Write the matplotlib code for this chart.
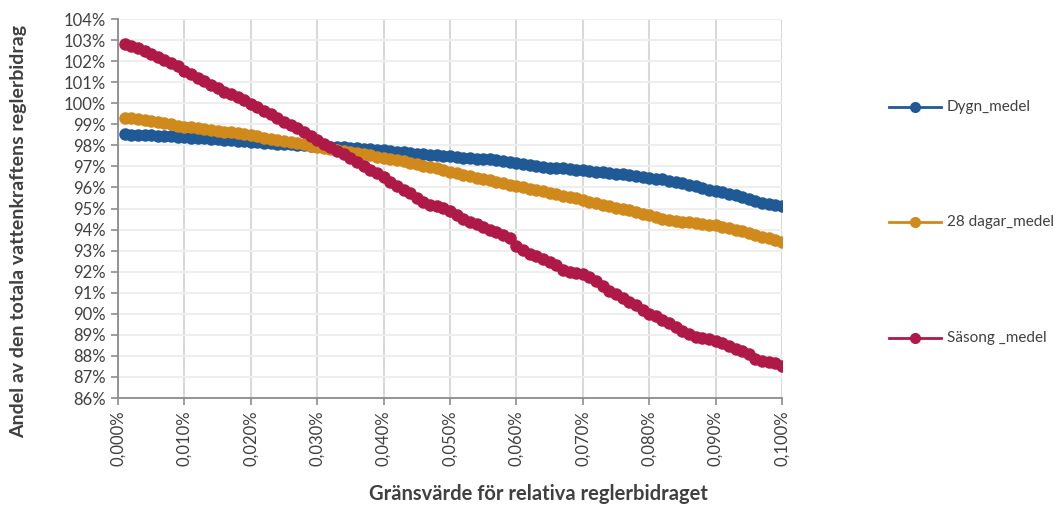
import matplotlib
matplotlib.use("Agg")
import matplotlib.pyplot as plt
from matplotlib.ticker import FuncFormatter, MultipleLocator
from matplotlib.lines import Line2D

plt.rcParams['font.family'] = ['Lato', 'DejaVu Sans']

# x values: threshold in percent (0.001% .. 0.100%)
x_vals = [i / 1000 for i in range(1, 101)]

dygn_medel = [
    98.52, 98.50, 98.49, 98.48, 98.47, 98.45, 98.44, 98.42, 98.40, 98.38,
    98.37, 98.35, 98.33, 98.31, 98.29, 98.27, 98.25, 98.22, 98.19, 98.16,
    98.14, 98.12, 98.10, 98.08, 98.07, 98.05, 98.03, 98.01, 97.99, 97.97,
    97.95, 97.93, 97.92, 97.90, 97.88, 97.86, 97.84, 97.82, 97.79, 97.76,
    97.73, 97.70, 97.67, 97.64, 97.61, 97.58, 97.56, 97.53, 97.50, 97.47,
    97.44, 97.41, 97.39, 97.37, 97.35, 97.33, 97.30, 97.26, 97.21, 97.17,
    97.13, 97.08, 97.03, 96.98, 96.94, 96.92, 96.90, 96.88, 96.85, 96.81,
    96.78, 96.75, 96.72, 96.69, 96.66, 96.62, 96.57, 96.52, 96.48, 96.45,
    96.42, 96.38, 96.32, 96.26, 96.20, 96.13, 96.05, 95.97, 95.90, 95.83,
    95.76, 95.70, 95.62, 95.53, 95.45, 95.36, 95.28, 95.22, 95.18, 95.12,
]

dagar28_medel = [
    99.32, 99.28, 99.24, 99.19, 99.14, 99.09, 99.04, 98.99, 98.94, 98.89,
    98.85, 98.81, 98.77, 98.73, 98.69, 98.65, 98.61, 98.57, 98.52, 98.47,
    98.42, 98.37, 98.32, 98.27, 98.22, 98.16, 98.10, 98.04, 97.97, 97.92,
    97.87, 97.83, 97.79, 97.75, 97.70, 97.64, 97.58, 97.52, 97.46, 97.40,
    97.35, 97.30, 97.24, 97.18, 97.11, 97.04, 96.97, 96.90, 96.82, 96.74,
    96.67, 96.60, 96.53, 96.46, 96.39, 96.33, 96.27, 96.20, 96.13, 96.06,
    96.00, 95.94, 95.88, 95.81, 95.74, 95.67, 95.61, 95.55, 95.48, 95.40,
    95.32, 95.24, 95.16, 95.10, 95.04, 94.99, 94.93, 94.85, 94.76, 94.67,
    94.58, 94.50, 94.45, 94.41, 94.38, 94.34, 94.30, 94.26, 94.23, 94.20,
    94.14, 94.07, 94.00, 93.92, 93.84, 93.76, 93.67, 93.58, 93.49, 93.40,
]

sasong_medel = [
    102.82, 102.74, 102.62, 102.48, 102.35, 102.20, 102.05, 101.90, 101.75, 101.55,
    101.38, 101.22, 101.05, 100.88, 100.70, 100.55, 100.42, 100.28, 100.14, 99.98,
    99.82, 99.65, 99.48, 99.30, 99.12, 98.95, 98.80, 98.65, 98.45, 98.25,
    98.08, 97.92, 97.75, 97.58, 97.40, 97.22, 97.03, 96.85, 96.68, 96.48,
    96.28, 96.08, 95.90, 95.72, 95.50, 95.30, 95.18, 95.10, 95.02, 94.90,
    94.70, 94.50, 94.38, 94.25, 94.12, 94.00, 93.87, 93.74, 93.62, 93.22,
    93.02, 92.85, 92.74, 92.60, 92.45, 92.30, 92.08, 92.00, 91.95, 91.88,
    91.75, 91.58, 91.30, 91.10, 90.92, 90.75, 90.58, 90.40, 90.18, 90.00,
    89.90, 89.72, 89.55, 89.35, 89.18, 89.02, 88.88, 88.85, 88.80, 88.72,
    88.60, 88.48, 88.35, 88.22, 88.10, 87.85, 87.78, 87.72, 87.65, 87.50,
]

series_names = ["Dygn_medel", "28 dagar_medel", "Säsong _medel"]
series_colors = ["#1F5A96", "#D0891B", "#AE1948"]
series_values = [dygn_medel, dagar28_medel, sasong_medel]

x_label = "Gränsvärde för relativa reglerbidraget"
y_label = "Andel av den totala vattenkraftens reglerbidrag"

fig = plt.figure(figsize=(10.53, 5.07), dpi=100)
ax = fig.add_axes([118 / 1053, 1 - 398 / 507, (782 - 118) / 1053, (398 - 19) / 507])

for name, col, vals in zip(series_names, series_colors, series_values):
    ax.plot(x_vals, vals, color=col, lw=2, marker='o', markersize=9,
            markeredgewidth=0, label=name, zorder=3)

ax.set_xlim(0, 0.1)
ax.set_ylim(86, 104)
ax.xaxis.set_major_locator(MultipleLocator(0.01))
ax.yaxis.set_major_locator(MultipleLocator(1))
ax.xaxis.set_major_formatter(FuncFormatter(lambda v, p: f"{v:.3f}%".replace('.', ',')))
ax.yaxis.set_major_formatter(FuncFormatter(lambda v, p: f"{v:.0f}%"))

ax.grid(axis='y', color='#EEEEEE', lw=1.5, zorder=0)
ax.grid(axis='x', color='#D9D9D9', lw=1.5, zorder=0)
ax.set_axisbelow(True)
for s in ['top', 'right']:
    ax.spines[s].set_visible(False)
for s in ['left', 'bottom']:
    ax.spines[s].set_color('#8C8C8C')
    ax.spines[s].set_linewidth(1.3)
ax.tick_params(axis='both', colors='#8C8C8C', length=5, width=1.2, labelcolor='#404040',
               labelsize=12)
ax.tick_params(axis='x', rotation=90, pad=4)

fig.text(538 / 1053, 1 - 494 / 507, x_label, ha='center', va='center',
         fontsize=14.5, fontweight='bold', color='#404040')
fig.text(19 / 1053, 1 - 231 / 507, y_label, ha='center', va='center', rotation=90,
         fontsize=14, fontweight='bold', color='#404040')

# legend entries
legend_y = [107, 222, 338]
for name, col, yy in zip(series_names, series_colors, legend_y):
    yf = 1 - yy / 507
    fig.add_artist(Line2D([889 / 1053, 941 / 1053], [yf, yf], color=col, lw=2,
                          transform=fig.transFigure))
    fig.add_artist(Line2D([915 / 1053], [yf], color=col, marker='o', markersize=8,
                          markeredgewidth=0, transform=fig.transFigure))
    fig.text(947 / 1053, yf, name, ha='left', va='center', fontsize=11,
             color='#404040')

fig.savefig("out.png", dpi=100)
